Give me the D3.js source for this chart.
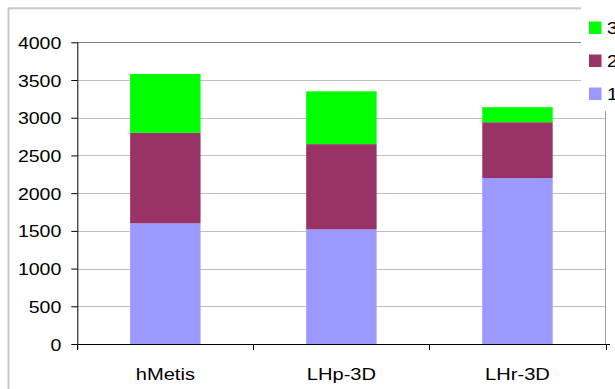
<!DOCTYPE html>
<html>
<head>
<meta charset="utf-8">
<script src="https://cdn.jsdelivr.net/npm/d3@7"></script>
<style>
  html, body { margin: 0; padding: 0; background: #fff; }
  svg { display: block; }
  text { font-family: "Liberation Sans", Arial, sans-serif; fill: #000; }
</style>
</head>
<body>
<svg id="chart" width="615" height="389"></svg>
<script>
// Stacked totals per partitioner, split into three segments
const categories = ["hMetis", "LHp-3D", "LHr-3D"];
const seriesNames = ["1", "2", "3"];
const series1 = [1600, 1520, 2200];
const series2 = [1200, 1130, 740];
const series3 = [780, 700, 200];
const yTicks = [0, 500, 1000, 1500, 2000, 2500, 3000, 3500, 4000];
const colors = ["#9999ff", "#993366", "#00ff00"];

const svg = d3.select("#chart");
const W = 615, H = 389;
const plot = { left: 77.3, right: 605.5, top: 42.3, bottom: 344 };
const textScaleX = 1.22;

// outer chart frame
svg.append("line").attr("x1", 8.5).attr("x2", 8.5).attr("y1", 8).attr("y2", H)
  .attr("stroke", "#c8c8c8").attr("stroke-width", 2);
svg.append("line").attr("x1", 8).attr("x2", W).attr("y1", 8.3).attr("y2", 8.3)
  .attr("stroke", "#c8c8c8").attr("stroke-width", 2);

const x = d3.scaleBand().domain(categories).range([plot.left, plot.right]).padding(0);
const y = d3.scaleLinear().domain([0, 4000]).range([plot.bottom, plot.top]);

// gridlines
svg.append("g").selectAll("line").data(yTicks.filter(t => t > 0)).join("line")
  .attr("x1", plot.left).attr("x2", plot.right)
  .attr("y1", d => Math.round(y(d)) + 0.5).attr("y2", d => Math.round(y(d)) + 0.5)
  .attr("stroke", d => d === 4000 ? "#808080" : "#c0c0c0").attr("stroke-width", 1);

// right edge of plot area
svg.append("line").attr("x1", plot.right).attr("x2", plot.right)
  .attr("y1", plot.top).attr("y2", plot.bottom)
  .attr("stroke", "#a0a0a0").attr("stroke-width", 1);

// stacked bars
const rows = categories.map((c, i) => ({ cat: c, s1: series1[i], s2: series2[i], s3: series3[i] }));
const stack = d3.stack().keys(["s1", "s2", "s3"])(rows);
const barW = x.bandwidth() * 0.4;
svg.append("g").selectAll("g").data(stack).join("g")
  .attr("fill", (d, i) => colors[i])
  .selectAll("rect").data(d => d).join("rect")
  .attr("x", d => x(d.data.cat) + (x.bandwidth() - barW) / 2)
  .attr("width", barW)
  .attr("y", d => y(d[1]))
  .attr("height", d => y(d[0]) - y(d[1]));

// y axis
const yAxis = svg.append("g").attr("transform", `translate(${plot.left},0)`)
  .call(d3.axisLeft(y).tickValues(yTicks).tickSize(6).tickFormat(d3.format("d")));
yAxis.select(".domain").attr("d", `M0.5,${plot.top}V${plot.bottom + 5}`).attr("stroke", "#000");
yAxis.selectAll(".tick line").attr("stroke", "#000");
yAxis.selectAll(".tick text").each(function () {
  const t = d3.select(this);
  t.attr("x", null).attr("dy", null).attr("y", null)
    .attr("text-anchor", "end")
    .attr("font-size", 16)
    .attr("transform", `translate(-16,6) scale(${textScaleX},1)`);
});

// x axis
const xAxis = svg.append("g").attr("transform", `translate(0,${plot.bottom})`);
xAxis.append("line").attr("x1", plot.left).attr("x2", 610).attr("y1", 0.5).attr("y2", 0.5)
  .attr("stroke", "#000");
const boundaries = categories.map(c => x(c)).concat([x(categories[categories.length - 1]) + x.bandwidth()]);
xAxis.selectAll("line.tk").data(boundaries).join("line").attr("class", "tk")
  .attr("x1", d => Math.round(d) + 0.5).attr("x2", d => Math.round(d) + 0.5)
  .attr("y1", 0).attr("y2", 6).attr("stroke", "#000");
xAxis.selectAll("text").data(categories).join("text")
  .attr("text-anchor", "middle")
  .attr("font-size", 16.5)
  .attr("transform", d => `translate(${x(d) + x.bandwidth() / 2},36) scale(${textScaleX},1)`)
  .text(d => d);

// legend (reversed order, top entry is the top segment)
const legend = svg.append("g");
legend.append("rect").attr("x", 581).attr("y", 0).attr("width", W - 581).attr("height", 111)
  .attr("fill", "#fff");
const legendItems = seriesNames.map((n, i) => ({ name: n, color: colors[i] })).reverse();
const lg = legend.selectAll("g").data(legendItems).join("g")
  .attr("transform", (d, i) => `translate(589,${28 + i * 33})`);
lg.append("rect").attr("x", 0).attr("y", -6.5).attr("width", 12.5).attr("height", 12.5)
  .attr("fill", d => d.color);
lg.append("text").attr("font-size", 16)
  .attr("transform", `translate(18,6) scale(${textScaleX},1)`)
  .text(d => d.name);
</script>
</body>
</html>
